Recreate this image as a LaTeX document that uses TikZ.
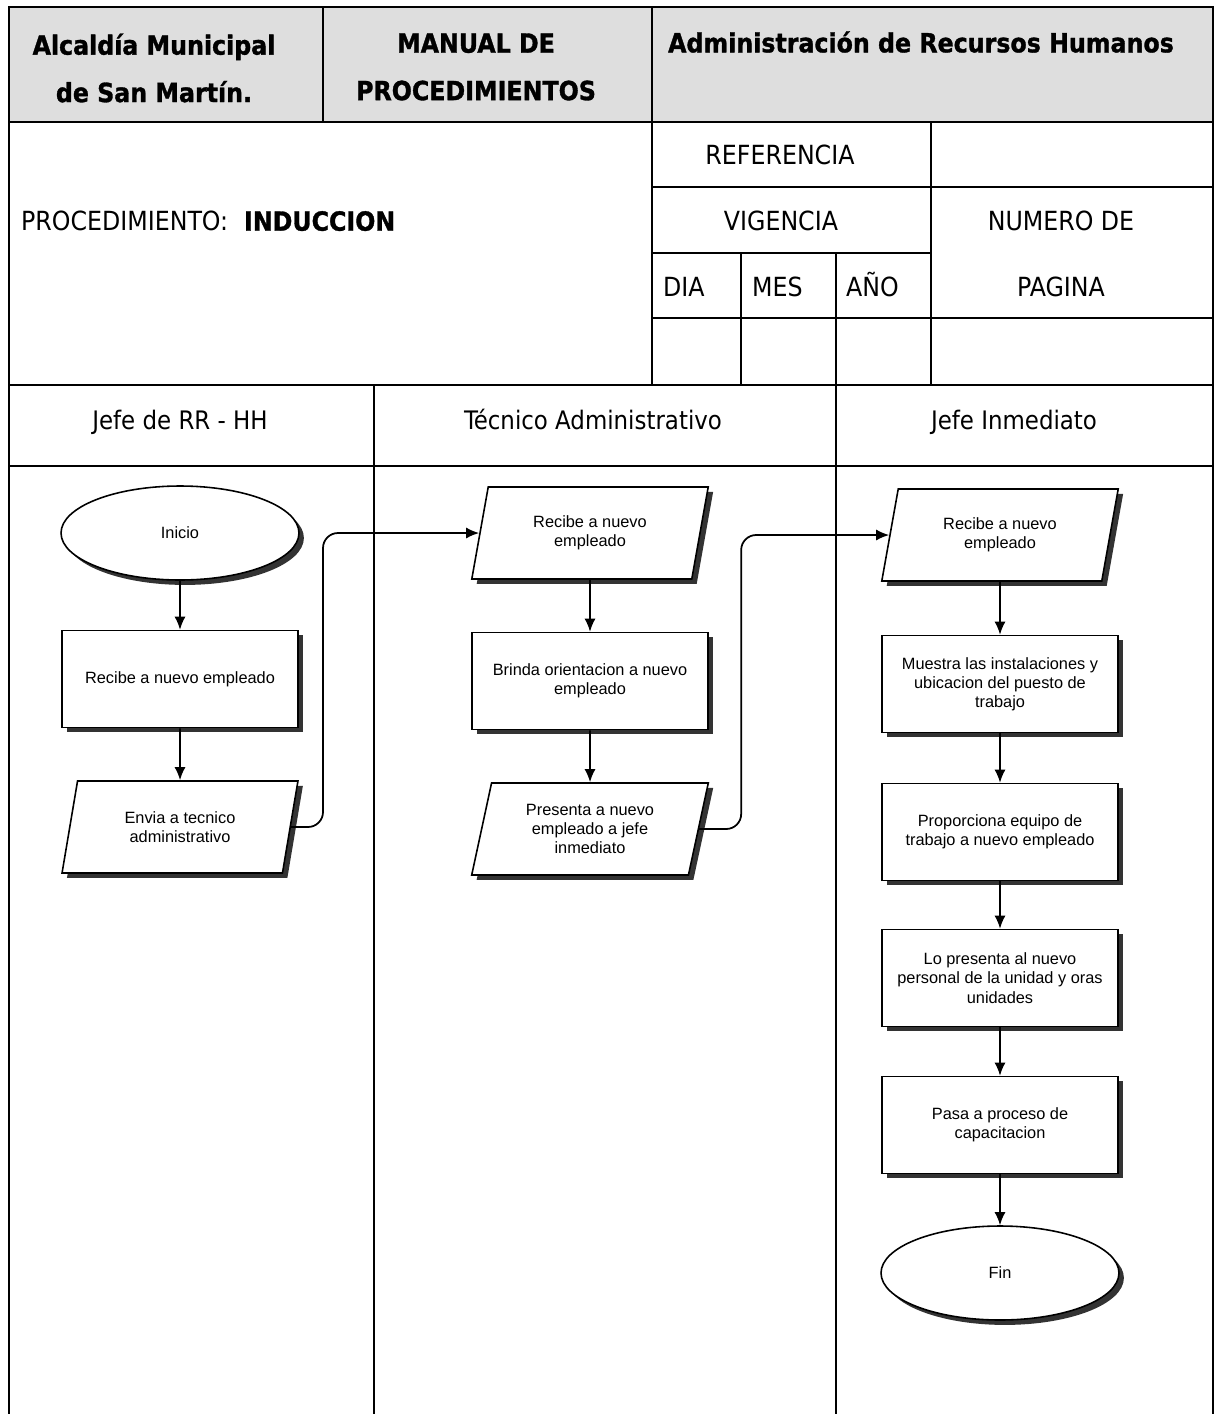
\documentclass[tikz,border=0pt]{standalone}
\usepackage{fontspec}
\setmainfont{Liberation Sans}
\newfontfamily\formfont{DejaVu Sans Condensed}
\newfontfamily\titlefont{DejaVu Sans Condensed}[BoldFeatures={FakeBold=1.2}]
\usetikzlibrary{shapes.geometric, arrows.meta, shadows}

\tikzset{
  rule/.style={line width=1.1pt},
  titletext/.style={font=\titlefont\bfseries\fontsize{15}{27}\selectfont, align=center},
  celltext/.style={font=\formfont\fontsize{15}{18}\selectfont, text height=11pt, text depth=0pt},
  lanetext/.style={font=\formfont\fontsize{14.5}{17}\selectfont, text height=11pt, text depth=0pt},
  shaded/.style={drop shadow={shadow xshift=2.8pt, shadow yshift=-2.8pt, fill=black!80, opacity=1}},
  stepbox/.style={draw, line width=0.9pt, fill=white, shaded, rectangle,
    minimum width=4.72cm, minimum height=1.94cm, align=center,
    font=\fontsize{9.3}{10.9}\selectfont},
  iobox/.style={draw, line width=0.9pt, fill=white, shaded, trapezium,
    trapezium left angle=76, trapezium right angle=104, trapezium stretches=true,
    minimum width=4.74cm, minimum height=1.84cm, align=center, inner sep=1pt,
    font=\fontsize{9.3}{10.9}\selectfont},
  terminal/.style={draw, line width=0.9pt, fill=white, shaded, ellipse,
    minimum width=4.76cm, minimum height=1.88cm, align=center,
    font=\fontsize{9.3}{10.9}\selectfont},
  flow/.style={line width=1pt, -{Latex[length=0.26cm, width=0.22cm]}},
}

\begin{document}
\begin{tikzpicture}[x=0.02cm, y=-0.02cm]
\useasboundingbox (0,0) rectangle (1218,1414);

% title band
\fill[black!13] (9,7) rectangle (1213,122);

% form grid
\draw[rule] (9,1414) -- (9,7) -- (1213,7) -- (1213,1414);
\draw[rule] (9,122) -- (1213,122);
\draw[rule] (323,7) -- (323,122);
\draw[rule] (652,7) -- (652,385);
\draw[rule] (931,122) -- (931,385);
\draw[rule] (652,187) -- (1213,187);
\draw[rule] (652,253) -- (931,253);
\draw[rule] (652,318) -- (1213,318);
\draw[rule] (741,253) -- (741,385);
\draw[rule] (836,253) -- (836,1414);
\draw[rule] (9,385) -- (1213,385);
\draw[rule] (9,466) -- (1213,466);
\draw[rule] (374,385) -- (374,1414);

% title texts
\node[titletext] (inst) at (154,68) {Alcaldía Municipal\\de San Martín.};
\node[titletext] (manual) at (476,67) {MANUAL DE\\PROCEDIMIENTOS};
\node[titletext] (area) at (921,42) {Administración de Recursos Humanos};

% form cells
\node[celltext, anchor=west] (proc) at (15,221) {PROCEDIMIENTO:\hspace{0.6em}{\titlefont\bfseries INDUCCION}};
\node[celltext] (ref) at (780,155) {REFERENCIA};
\node[celltext] (vig) at (781,221) {VIGENCIA};
\node[celltext] (num) at (1061,221) {NUMERO DE};
\node[celltext] (pag) at (1061,287) {PAGINA};
\node[celltext, anchor=west] (dia) at (657,287) {DIA};
\node[celltext, anchor=west] (mes) at (746,287) {MES};
\node[celltext, anchor=west] (anio) at (840,287) {AÑO};

% lane titles
\node[lanetext] (laneA) at (180,420) {Jefe de RR - HH};
\node[lanetext] (laneB) at (593,420) {Técnico Administrativo};
\node[lanetext] (laneC) at (1014,420) {Jefe Inmediato};

% Jefe de RR - HH
\node[terminal] (s) at (180,533) {Inicio};
\node[stepbox] (r1) at (180,679) {Recibe a nuevo empleado};
\node[iobox] (e3) at (180,827) {Envia a tecnico\\administrativo};

% Tecnico Administrativo
\node[iobox] (t1) at (590,533) {Recibe a nuevo\\empleado};
\node[stepbox] (t2) at (590,681) {Brinda orientacion a nuevo\\empleado};
\node[iobox] (t3) at (590,829) {Presenta a nuevo\\empleado a jefe\\inmediato};

% Jefe Inmediato
\node[iobox] (u1) at (1000,535) {Recibe a nuevo\\empleado};
\node[stepbox] (u2) at (1000,684) {Muestra las instalaciones y\\ubicacion del puesto de\\trabajo};
\node[stepbox] (u3) at (1000,832) {Proporciona equipo de\\trabajo a nuevo empleado};
\node[stepbox] (u4) at (1000,978) {Lo presenta al nuevo\\personal de la unidad y oras\\unidades};
\node[stepbox] (u5) at (1000,1125) {Pasa a proceso de\\capacitacion};
\node[terminal] (u6) at (1000,1273) {Fin};

% connectors
\draw[flow] (s) -- (r1);
\draw[flow] (r1) -- (e3);
\draw[flow, rounded corners=0.3cm] (e3.east) -- ++(32,0) |- (t1.west);
\draw[flow] (t1) -- (t2);
\draw[flow] (t2) -- (t3);
\draw[flow, rounded corners=0.3cm] (t3.east) -- ++(42,0) |- (u1.west);
\draw[flow] (u1) -- (u2);
\draw[flow] (u2) -- (u3);
\draw[flow] (u3) -- (u4);
\draw[flow] (u4) -- (u5);
\draw[flow] (u5) -- (u6);
\end{tikzpicture}
\end{document}
